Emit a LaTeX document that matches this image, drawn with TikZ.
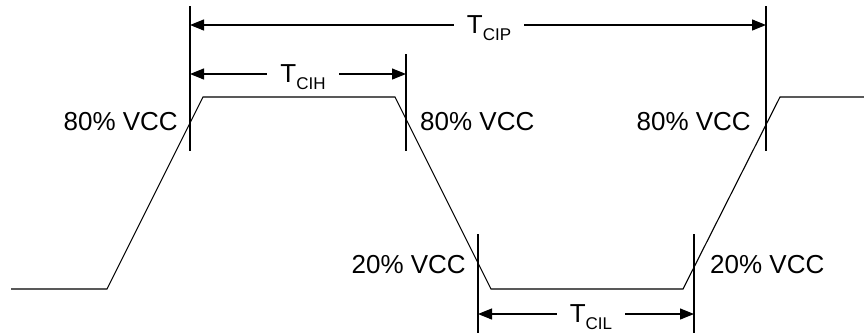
\documentclass[tikz,border=0pt]{standalone}
\usepackage{fontspec}
\setmainfont{Liberation Sans}
\usetikzlibrary{arrows.meta}
\tikzset{
  lvl/.style = {inner sep=0pt, font=\fontsize{26}{30}\selectfont},% niveau 80% / 20%
  tlbl/.style = {anchor=base, fill=white, inner xsep=13pt, inner ysep=1pt,
    font=\fontsize{26}{30}\selectfont},% T_CIx sur la fleche
  wave/.style = {line width=1.1pt, line join=miter},
  vline/.style = {line width=2pt},
  span/.style = {<->, >={Triangle[length=14pt,width=11pt]}, line width=1.2pt},
}
\newcommand{\tsub}[1]{T\lower7pt\hbox{\fontsize{17}{17}\selectfont #1}}

\begin{document}
\begin{tikzpicture}[x=1pt,y=-1pt]
  \useasboundingbox (0,0) rectangle (864,333);

  %   clock waveform
  \coordinate (w0) at (11,289);
  \coordinate (w1) at (107,289);
  \coordinate (w2) at (203,97);
  \coordinate (w3) at (395,97);
  \coordinate (w4) at (491,289);
  \coordinate (w5) at (683,289);
  \coordinate (w6) at (780,97);
  \coordinate (w7) at (864,97);
  \draw[wave] (w0) -- (w1) -- (w2) -- (w3) -- (w4) -- (w5) -- (w6) -- (w7);

  %   marker lines
  \coordinate (v1t) at (190,6);   \coordinate (v1b) at (190,151);
  \coordinate (v2t) at (406,54);  \coordinate (v2b) at (406,151);
  \coordinate (v3t) at (766,6);   \coordinate (v3b) at (766,151);
  \coordinate (v4t) at (478,234); \coordinate (v4b) at (478,333);
  \coordinate (v5t) at (694,234); \coordinate (v5b) at (694,333);
  \draw[vline] (v1t) -- (v1b);
  \draw[vline] (v2t) -- (v2b);
  \draw[vline] (v3t) -- (v3b);
  \draw[vline] (v4t) -- (v4b);
  \draw[vline] (v5t) -- (v5b);

  %   timing spans
  \coordinate (ip1) at (190,25);  \coordinate (ip2) at (766,25);
  \coordinate (ih1) at (190,74);  \coordinate (ih2) at (406,74);
  \coordinate (il1) at (478,314); \coordinate (il2) at (694,314);
  \draw[span] (ip1) -- (ip2);
  \draw[span] (ih1) -- (ih2);
  \draw[span] (il1) -- (il2);

  \node[tlbl] (tcip) at (489,33) {\tsub{CIP}};
  \node[tlbl] (tcih) at (303,82) {\tsub{CIH}};
  \node[tlbl] (tcil) at (591,322) {\tsub{CIL}};

  %   levels
  \node[lvl, anchor=base east] (h1) at (178,130) {80\% VCC};
  \node[lvl, anchor=base west] (h2) at (420,130) {80\% VCC};
  \node[lvl, anchor=base east] (h3) at (751,130) {80\% VCC};
  \node[lvl, anchor=base east] (l1) at (466,273) {20\% VCC};
  \node[lvl, anchor=base west] (l2) at (710,273) {20\% VCC};
\end{tikzpicture}
\end{document}
